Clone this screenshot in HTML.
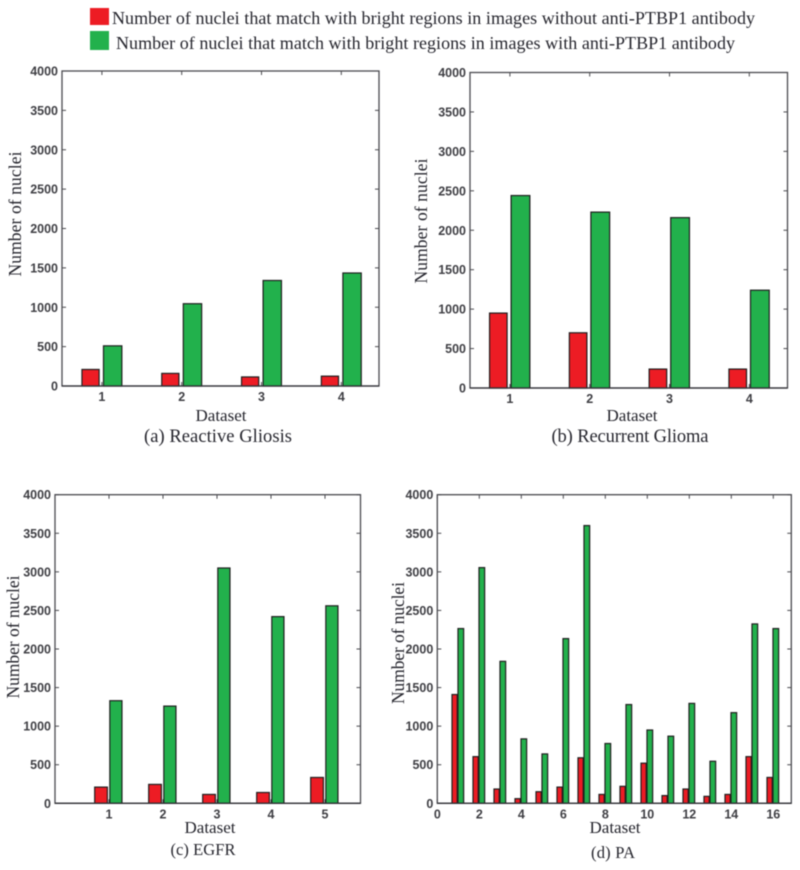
<!DOCTYPE html>
<html>
<head>
<meta charset="utf-8">
<title>Number of nuclei per dataset</title>
<style>
html,body{margin:0;padding:0;background:#fff;width:800px;height:870px;overflow:hidden}
svg{display:block;filter:blur(0.45px)}
.serif{font-family:"Liberation Serif",serif;fill:#26262e}
.tick{font-family:"Liberation Sans",sans-serif;font-weight:bold;font-size:12.5px;fill:#3f3f44}
</style>
</head>
<body>
<svg id="figure" width="800" height="870" viewBox="0 0 800 870" xmlns="http://www.w3.org/2000/svg">
  <rect x="0" y="0" width="800" height="870" fill="#fff"/>
  <g>
    <rect x="90" y="8" width="19" height="17" fill="#ed1c24"/>
    <text class="serif" x="112" y="24" font-size="18" textLength="643">Number of nuclei that match with bright regions in images without anti-PTBP1 antibody</text>
    <rect x="90" y="31" width="19" height="19" fill="#22b14c"/>
    <text class="serif" x="116" y="49" font-size="18" textLength="619">Number of nuclei that match with bright regions in images with anti-PTBP1 antibody</text>
  </g>

  <g id="panel-a"></g>
  <g id="panel-b"></g>
  <g id="panel-c"></g>
  <g id="panel-d"></g>

  <text class="serif" font-size="17.5" text-anchor="middle" transform="translate(21 214) rotate(-90)" textLength="125">Number of nuclei</text>
  <text class="serif" font-size="17" text-anchor="middle" x="221" y="421">Dataset</text>
  <text class="serif" font-size="18.5" text-anchor="middle" x="218" y="442" textLength="148">(a) Reactive Gliosis</text>

  <text class="serif" font-size="17.5" text-anchor="middle" transform="translate(427 221) rotate(-90)" textLength="125">Number of nuclei</text>
  <text class="serif" font-size="17" text-anchor="middle" x="632" y="421">Dataset</text>
  <text class="serif" font-size="18.5" text-anchor="middle" x="630" y="442" textLength="157">(b) Recurrent Glioma</text>

  <text class="serif" font-size="17.5" text-anchor="middle" transform="translate(19 637) rotate(-90)" textLength="123">Number of nuclei</text>
  <text class="serif" font-size="17" text-anchor="middle" x="210" y="833">Dataset</text>
  <text class="serif" font-size="16.5" text-anchor="middle" x="203" y="855" textLength="65">(c) EGFR</text>

  <text class="serif" font-size="17.5" text-anchor="middle" transform="translate(404 643) rotate(-90)" textLength="122">Number of nuclei</text>
  <text class="serif" font-size="17" text-anchor="middle" x="615" y="833">Dataset</text>
  <text class="serif" font-size="16.5" text-anchor="middle" x="613" y="858" textLength="44">(d) PA</text>
</svg>
<script>
const yTickValues = [0, 500, 1000, 1500, 2000, 2500, 3000, 3500, 4000];

const categoriesA = [1, 2, 3, 4];
const withoutAntibodyA = [210, 160, 115, 125];
const withAntibodyA = [510, 1045, 1340, 1435];
const xTicksA = [1, 2, 3, 4];

const categoriesB = [1, 2, 3, 4];
const withoutAntibodyB = [950, 700, 240, 240];
const withAntibodyB = [2440, 2230, 2160, 1240];
const xTicksB = [1, 2, 3, 4];

const categoriesC = [1, 2, 3, 4, 5];
const withoutAntibodyC = [210, 245, 115, 140, 335];
const withAntibodyC = [1330, 1260, 3050, 2420, 2560];
const xTicksC = [1, 2, 3, 4, 5];

const categoriesD = [1, 2, 3, 4, 5, 6, 7, 8, 9, 10, 11, 12, 13, 14, 15, 16];
const withoutAntibodyD = [1410, 605, 185, 60, 150, 210, 590, 115, 220, 520, 100, 185, 90, 115, 605, 335];
const withAntibodyD = [2265, 3055, 1840, 835, 640, 2135, 3600, 775, 1280, 950, 870, 1295, 545, 1175, 2325, 2265];
const xTicksD = [0, 2, 4, 6, 8, 10, 12, 14, 16];

const NS = 'http://www.w3.org/2000/svg';

function make(parent, tag, attrs) {
  const el = document.createElementNS(NS, tag);
  for (const k in attrs) el.setAttribute(k, attrs[k]);
  parent.appendChild(el);
  return el;
}

function drawPanel(id, p, categories, red, green, xTicks) {
  const g = document.getElementById(id);
  const xScale = v => p.x0 + (v - p.xMin) * p.unit;
  const yScale = v => p.bottom - (v / 4000) * (p.bottom - p.top);

  const frame = make(g, 'rect', {x: p.x0, y: p.top, width: p.x1 - p.x0, height: p.bottom - p.top, fill: 'none', stroke: '#4a4a4f', 'stroke-width': 1.3});
  
  

  yTickValues.forEach(v => {
    const y = yScale(v);
    const left = make(g, 'line', {x1: p.x0, x2: p.x0 + 4, y1: y, y2: y, stroke: '#4a4a4f', 'stroke-width': 1});
    
    
    const right = make(g, 'line', {x1: p.x1 - 4, x2: p.x1, y1: y, y2: y, stroke: '#4a4a4f', 'stroke-width': 1});
    
    
    const label = make(g, 'text', {x: p.x0 - 4, y: y + 4.5, 'text-anchor': 'end', class: 'tick'});
    
    
    label.textContent = v;
  });

  xTicks.forEach(v => {
    const x = xScale(v);
    const top = make(g, 'line', {x1: x, x2: x, y1: p.top, y2: p.top + 4, stroke: '#4a4a4f', 'stroke-width': 1});
    
    
    const bottom = make(g, 'line', {x1: x, x2: x, y1: p.bottom - 4, y2: p.bottom, stroke: '#4a4a4f', 'stroke-width': 1});
    
    
    const label = make(g, 'text', {x: x, y: p.bottom + 15, 'text-anchor': 'middle', class: 'tick'});
    
    
    label.textContent = v;
  });

  categories.forEach((c, i) => {
    const yr = yScale(red[i]);
    const rx0 = xScale(c + p.redFrom);
    const redBar = make(g, 'rect', {x: rx0, y: yr, width: (p.redTo - p.redFrom) * p.unit, height: p.bottom - yr, fill: '#ed1c24', stroke: '#1f1f1f', 'stroke-width': 1.2});
    
    
    const yg = yScale(green[i]);
    const gx0 = xScale(c + p.greenFrom);
    const greenBar = make(g, 'rect', {x: gx0, y: yg, width: (p.greenTo - p.greenFrom) * p.unit, height: p.bottom - yg, fill: '#22b14c', stroke: '#1f1f1f', 'stroke-width': 1.2});
    
    
  });

  const axisLine = make(g, 'line', {x1: p.x0, x2: p.x1, y1: p.bottom, y2: p.bottom, stroke: '#333338', 'stroke-width': 1.3});
  
  
}

drawPanel('panel-a', {x0: 62, x1: 379, top: 71, bottom: 386, xMin: 0.5, unit: 79.8, redFrom: -0.25, redTo: -0.035, greenFrom: 0.02, greenTo: 0.25}, categoriesA, withoutAntibodyA, withAntibodyA, xTicksA);
drawPanel('panel-b', {x0: 470, x1: 787.5, top: 72.5, bottom: 388, xMin: 0.5, unit: 79.8, redFrom: -0.255, redTo: -0.035, greenFrom: 0.015, greenTo: 0.25}, categoriesB, withoutAntibodyB, withAntibodyB, xTicksB);
drawPanel('panel-c', {x0: 55, x1: 360.5, top: 494.7, bottom: 803.3, xMin: 0, unit: 54, redFrom: -0.265, redTo: -0.03, greenFrom: 0.015, greenTo: 0.24}, categoriesC, withoutAntibodyC, withAntibodyC, xTicksC);
drawPanel('panel-d', {x0: 437.3, x1: 791.3, top: 494.7, bottom: 803.3, xMin: 0, unit: 21, redFrom: -0.3, redTo: -0.05, greenFrom: -0.015, greenTo: 0.255}, categoriesD, withoutAntibodyD, withAntibodyD, xTicksD);
</script>
</body>
</html>
